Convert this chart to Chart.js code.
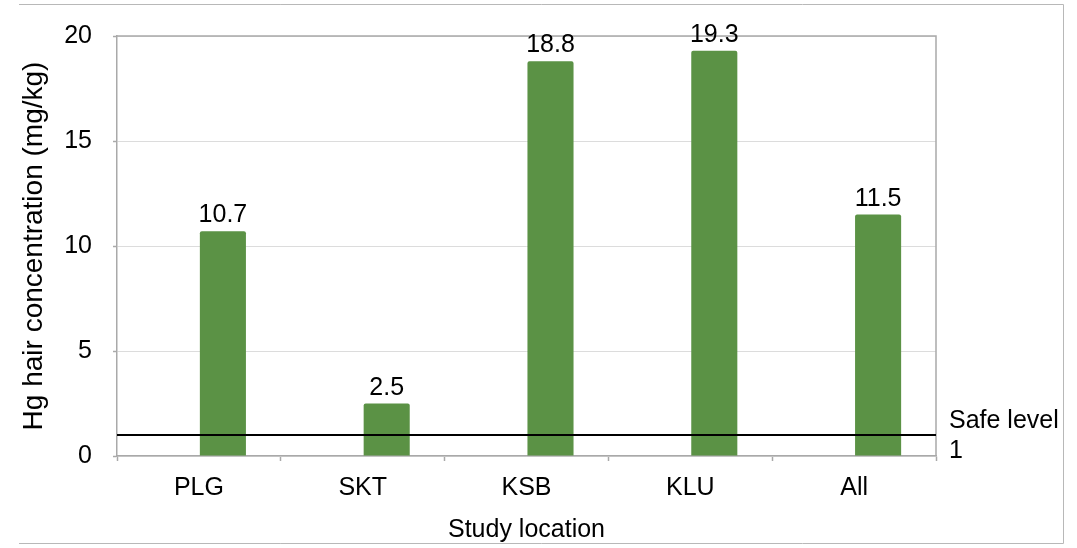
<!DOCTYPE html>
<html>
<head>
<meta charset="utf-8">
<title>Hg hair concentration by study location</title>
<script src="https://cdn.jsdelivr.net/npm/chart.js@4.4.1/dist/chart.umd.min.js"></script>
<style>
    body { margin: 0; background: #fff; }
    #wrap { position: relative; width: 1077px; height: 548px; }
</style>
</head>
<body>
<div id="wrap"><canvas id="hgChart"></canvas></div>
<script>
// Mean Hg concentration in hair (mg/kg) per study location
const locations = ['PLG', 'SKT', 'KSB', 'KLU', 'All'];
const hgValues = [10.7, 2.5, 18.8, 19.3, 11.5];
const emptySeries = [null, null, null, null, null];
const yTicks = [0, 5, 10, 15, 20];
const safeLevel = 1;

const FONT = "'Liberation Sans', Arial, sans-serif";
const frameGray = '#a9a9a9';

// Outer box, top/right plot frame, safe-level line and value labels
const decorations = {
    id: 'decorations',
    beforeDraw(chart) {
        const ctx = chart.ctx;
        ctx.save();
        ctx.strokeStyle = '#b8b8b8';
        ctx.lineWidth = 1;
        ctx.beginPath();
        ctx.moveTo(19, 4.5);
        ctx.lineTo(1063.5, 4.5);
        ctx.lineTo(1063.5, 543.5);
        ctx.lineTo(19, 543.5);
        ctx.stroke();
        ctx.restore();
    },
    afterDatasetsDraw(chart) {
        const ctx = chart.ctx;
        const area = chart.chartArea;
        const yScale = chart.scales.y;
        ctx.save();

        // frame on top and right of the plot
        ctx.strokeStyle = frameGray;
        ctx.lineWidth = 1.5;
        ctx.beginPath();
        ctx.moveTo(area.left, area.top);
        ctx.lineTo(area.right, area.top);
        ctx.lineTo(area.right, area.bottom);
        ctx.stroke();

        // safe level
        const ySafe = yScale.getPixelForValue(safeLevel);
        ctx.strokeStyle = '#000';
        ctx.lineWidth = 2.2;
        ctx.beginPath();
        ctx.moveTo(area.left, ySafe);
        ctx.lineTo(area.right, ySafe);
        ctx.stroke();

        ctx.fillStyle = '#000';
        ctx.font = '25px ' + FONT;
        ctx.textAlign = 'left';
        ctx.textBaseline = 'alphabetic';
        ctx.fillText('Safe level', area.right + 13, ySafe - 7);
        ctx.fillText(String(safeLevel), area.right + 13, ySafe + 23);

        // value labels above the bars
        ctx.textAlign = 'center';
        const meta = chart.getDatasetMeta(1);
        meta.data.forEach((bar, i) => {
            ctx.fillText(hgValues[i].toFixed(1), bar.x, bar.y - 9);
        });
        ctx.restore();
    }
};

const ctx = document.getElementById('hgChart').getContext('2d');
new Chart(ctx, {
    type: 'bar',
    data: {
        labels: locations,
        datasets: [
            {
                label: '',
                data: emptySeries,
                backgroundColor: 'rgba(0,0,0,0)'
            },
            {
                label: 'Hg hair concentration',
                data: hgValues,
                backgroundColor: '#5b9245',
                borderRadius: 2,
                borderSkipped: 'bottom'
            }
        ]
    },
    options: {
        responsive: true,
        maintainAspectRatio: false,
        animation: false,
        categoryPercentage: 0.586,
        barPercentage: 0.96,
        layout: {
            padding: { left: 0, top: 33, right: 141, bottom: 0 }
        },
        plugins: {
            legend: { display: false },
            tooltip: { enabled: false }
        },
        scales: {
            x: {
                afterFit(scale) { scale.height = 92; },
                grid: {
                    offset: true,
                    drawOnChartArea: false,
                    tickLength: 5,
                    tickColor: frameGray,
                    tickWidth: 1.5
                },
                border: { color: frameGray, width: 1.5 },
                ticks: {
                    color: '#000',
                    padding: 12,
                    font: { family: FONT, size: 25 }
                },
                title: {
                    display: true,
                    text: 'Study location',
                    color: '#000',
                    font: { family: FONT, size: 25 },
                    padding: { top: 0, bottom: 3 }
                }
            },
            y: {
                min: 0,
                max: 20,
                afterFit(scale) { scale.width = 117; },
                afterBuildTicks(scale) {
                    scale.ticks = yTicks.map(v => ({ value: v }));
                },
                grid: {
                    color: '#dcdcdc',
                    lineWidth: 1,
                    tickLength: 4,
                    tickColor: frameGray,
                    tickWidth: 1.5
                },
                border: { color: frameGray, width: 1.5 },
                ticks: {
                    color: '#000',
                    padding: 21,
                    font: { family: FONT, size: 25 }
                },
                title: {
                    display: true,
                    text: 'Hg hair concentration (mg/kg)',
                    color: '#000',
                    font: { family: FONT, size: 28 },
                    padding: { top: 17, bottom: 0 }
                }
            }
        }
    },
    plugins: [decorations]
});
</script>
</body>
</html>
